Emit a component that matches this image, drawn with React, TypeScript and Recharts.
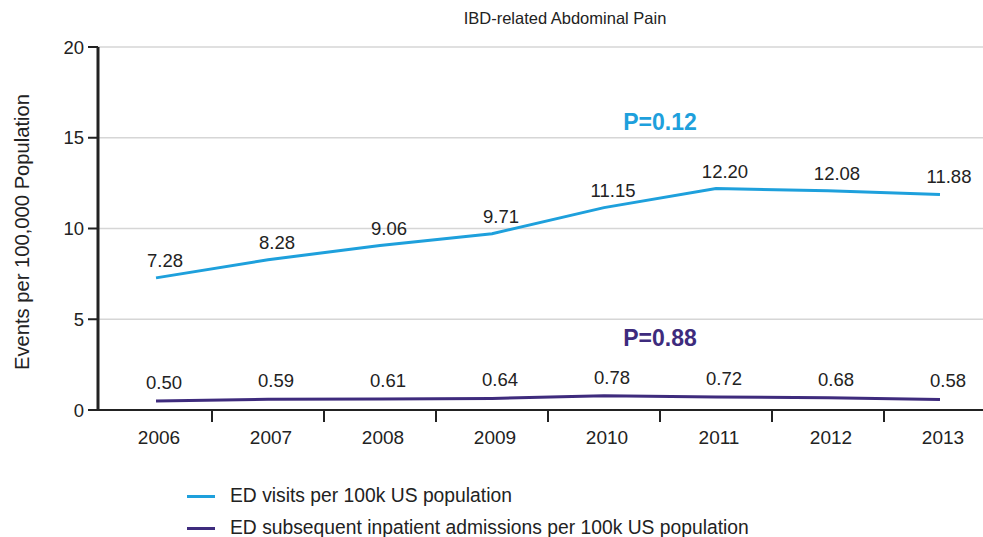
import { LineChart, Line, XAxis, YAxis, CartesianGrid, LabelList, ReferenceDot, Legend } from 'recharts';

const YEARS = ['2006', '2007', '2008', '2009', '2010', '2011', '2012', '2013'];
const ED_VISITS = [7.28, 8.28, 9.06, 9.71, 11.15, 12.2, 12.08, 11.88];
const ADMISSIONS = [0.5, 0.59, 0.61, 0.64, 0.78, 0.72, 0.68, 0.58];
const Y_TICKS = [0, 5, 10, 15, 20];
const SERIES_NAMES = ['ED visits per 100k US population', 'ED subsequent inpatient admissions per 100k US population'];

const BLUE = '#1ea0dc';
const PURPLE = '#3e2b7d';
const INK = '#222';
const FONT = '"Liberation Sans", Arial, sans-serif';

const data = YEARS.map((year, i) => ({ i, year, visits: ED_VISITS[i], admissions: ADMISSIONS[i] }));

// integer ticks carry the year, half ticks are the little marks between years
const xTicks: number[] = [];
for (let k = 0; k < YEARS.length; k++) {
    xTicks.push(k);
    if (k < YEARS.length - 1) xTicks.push(k + 0.5);
}

const YearTick = (props: any) => {
    const { x, y, payload } = props;
    const v = payload.value;
    if (Number.isInteger(v)) {
        return (
            <text x={x + 3} y={y + 27} textAnchor="middle" dominantBaseline="central" fontSize={19} fill={INK} fontFamily={FONT}>
                {YEARS[v]}
            </text>
        );
    }
    return <line x1={x} x2={x} y1={y} y2={y + 12} stroke={INK} strokeWidth={2} />;
};

const LegendBox = () => (
    <div style={{ height: 64, fontFamily: FONT, fontSize: 19.3, color: INK }}>
        {SERIES_NAMES.map((name, i) => (
            <div key={name} style={{ display: 'flex', alignItems: 'center', height: 32 }}>
                <span style={{ display: 'inline-block', width: 28, height: 3, background: i === 0 ? BLUE : PURPLE, marginRight: 15 }} />
                {name}
            </div>
        ))}
    </div>
);

const fmt = (v: any) => Number(v).toFixed(2);

export default function App() {
    return (
        <div style={{ position: 'absolute', left: 0, top: 0 }}>
            <LineChart width={983} height={537} data={data} margin={{ top: 47, right: 0, left: 0, bottom: 23 }}>
                <CartesianGrid vertical={false} stroke="#d6d6d6" strokeWidth={1.5} />
                <XAxis
                    dataKey="i"
                    type="number"
                    domain={[-0.518, 7.384]}
                    ticks={xTicks}
                    interval={0}
                    tick={<YearTick />}
                    tickLine={false}
                    tickSize={0}
                    tickMargin={0}
                    height={40}
                    axisLine={{ stroke: INK, strokeWidth: 2 }}
                    allowDataOverflow
                />
                <YAxis
                    domain={[0, 20]}
                    ticks={Y_TICKS}
                    width={98}
                    tickSize={10}
                    tickMargin={4}
                    tickLine={{ stroke: INK, strokeWidth: 2 }}
                    axisLine={{ stroke: INK, strokeWidth: 3 }}
                    tick={{ fontSize: 18.5, fill: INK, fontFamily: FONT }}
                />
                <Line dataKey="visits" stroke={BLUE} strokeWidth={3} dot={false} isAnimationActive={false}>
                    <LabelList dataKey="visits" position="top" offset={11} dx={9} fontSize={18.5} fill={INK} fontFamily={FONT} formatter={fmt} />
                </Line>
                <Line dataKey="admissions" stroke={PURPLE} strokeWidth={3} dot={false} isAnimationActive={false}>
                    <LabelList dataKey="admissions" position="top" offset={12} dx={8} fontSize={18.5} fill={INK} fontFamily={FONT} formatter={fmt} />
                </Line>
                <ReferenceDot x={4.5} y={15.9} r={0} fill="none" stroke="none"
                    label={{ value: 'P=0.12', position: 'center', fill: BLUE, fontSize: 23, fontWeight: 'bold', fontFamily: FONT }} />
                <ReferenceDot x={4.5} y={3.95} r={0} fill="none" stroke="none"
                    label={{ value: 'P=0.88', position: 'center', fill: PURPLE, fontSize: 23, fontWeight: 'bold', fontFamily: FONT }} />
                <text x={565} y={18} textAnchor="middle" dominantBaseline="central" fontSize={16.5} fill={INK} fontFamily={FONT}>
                    IBD-related Abdominal Pain
                </text>
                <text x={22} y={232} transform="rotate(-90 22 232)" textAnchor="middle" dominantBaseline="central" fontSize={20.2} fill={INK} fontFamily={FONT}>
                    Events per 100,000 Population
                </text>
                <Legend content={<LegendBox />} wrapperStyle={{ left: 187, top: 480, width: 'auto' }} />
            </LineChart>
        </div>
    );
}
